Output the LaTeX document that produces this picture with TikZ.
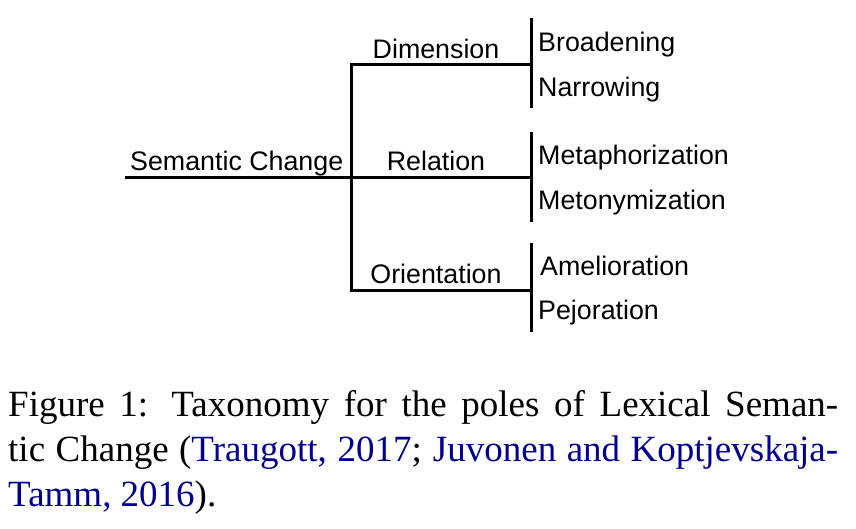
\documentclass[tikz,border=0pt]{standalone}
\usepackage{fontspec}
\setmainfont{Liberation Serif}
\setsansfont{Liberation Sans}
\usepackage{xcolor}
\definecolor{citeblue}{rgb}{0,0,0.55}
\usetikzlibrary{positioning}

\begin{document}
\begin{tikzpicture}[x=1pt,y=-1pt,
    tree/.style={line width=3pt},
    lbl/.style={font=\fontsize{26.8}{30}\selectfont\sffamily, inner sep=0pt},
    leaf/.style={lbl, anchor=base west},
    cat/.style={lbl, anchor=base},
    capline/.style={font=\fontsize{37}{45}\selectfont, inner sep=0pt, anchor=base west}]
  \useasboundingbox (0,0) rectangle (856,528);
  % skeleton of the tree
  \coordinate (root)  at (125,177);
  \coordinate (split) at (351,177);
  \coordinate (dim_a) at (351,64);
  \coordinate (ori_a) at (351,290);
  \coordinate (dim_b) at (531,64);
  \coordinate (rel_b) at (531,177);
  \coordinate (ori_b) at (531,290);
  \coordinate (dim_t) at (531,18);
  \coordinate (dim_d) at (531,108);
  \coordinate (rel_t) at (531,132);
  \coordinate (rel_d) at (531,222);
  \coordinate (ori_t) at (531,243);
  \coordinate (ori_d) at (531,332);
  \draw[tree] (root) -- (rel_b);
  \draw[tree] (dim_b) -- (dim_a) -- (ori_a) -- (ori_b);
  \draw[tree] (dim_t) -- (dim_d);
  \draw[tree] (rel_t) -- (rel_d);
  \draw[tree] (ori_t) -- (ori_d);
  % labels
  \node[lbl, anchor=base west] (sc) at (130,170) {Semantic Change};
  \node[cat] (dim) at (436,58)  {Dimension};
  \node[cat] (rel) at (436,170.5) {Relation};
  \node[cat] (ori) at (436,283) {Orientation};
  \node[leaf] (broad) at (538,51.5) {Broadening};
  \node[leaf] (narr)  at (538,96.5) {Narrowing};
  \node[leaf] (meta)  at (538,164)  {Metaphorization};
  \node[leaf] (meto)  at (538,209)  {Metonymization};
  \node[leaf] (amel)  at (540,275)  {Amelioration};
  \node[leaf] (pejo)  at (538,319)  {Pejoration};
  % caption
  \node[capline] (cap1) at (8,416.7) {\makebox[830pt][s]{Figure 1: Taxonomy for the poles of Lexical Seman-}};
  \node[capline] (cap2) at (8,461.7) {\makebox[830pt][s]{tic Change ({\color{citeblue}Traugott, 2017}; {\color{citeblue}Juvonen and Koptjevskaja-}}};
  \node[capline] (cap3) at (8,506.7) {{\color{citeblue}Tamm, 2016}).};
\end{tikzpicture}
\end{document}
